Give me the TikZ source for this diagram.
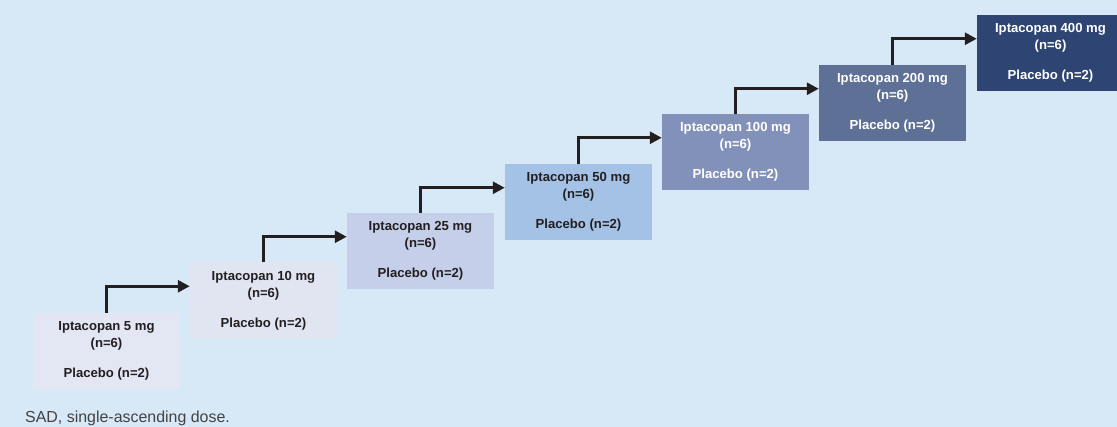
\documentclass[tikz,border=0pt]{standalone}
\usepackage{fontspec}
\setmainfont{Liberation Sans}
\usepackage{tikz}
\usetikzlibrary{positioning, arrows.meta}
\usepackage{xcolor}
\definecolor{bgblue}{HTML}{D7E8F7}
\definecolor{doseA}{HTML}{E3E6F3}
\definecolor{doseB}{HTML}{E1E5F2}
\definecolor{doseC}{HTML}{C5CFE9}
\definecolor{doseD}{HTML}{A4C2E6}
\definecolor{doseE}{HTML}{8191BA}
\definecolor{doseF}{HTML}{5E7096}
\definecolor{doseG}{HTML}{2E4472}
\definecolor{inkdark}{HTML}{231F20}

\begin{document}
\begin{tikzpicture}[
      x=0.03cm, y=0.03cm,
      every node/.style={font=\fontsize{11.2}{14.4}\selectfont\bfseries},
      dosebox/.style={minimum width=4.41cm, minimum height=2.28cm, align=center, inner sep=0pt, text=inkdark},
      darkbox/.style={dosebox, text=white},
      stepline/.style={line width=2.4pt, inkdark, -{Triangle[length=0.36cm, width=0.36cm]}},
      >=Stealth,
    ]
    % background
    \fill[bgblue] (0,0) rectangle (1117,427);
    \clip (0,0) rectangle (1117,427);

    % dose cohorts
    \node[dosebox, fill=doseA] (d5) at (106.5,76) {Iptacopan 5 mg\\(n=6)\\[11pt]Placebo (n=2)};
    \node[dosebox, fill=doseB] (d10) at (263.5,126.5) {Iptacopan 10 mg\\(n=6)\\[11pt]Placebo (n=2)};
    \node[dosebox, fill=doseC] (d25) at (420.5,176) {Iptacopan 25 mg\\(n=6)\\[11pt]Placebo (n=2)};
    \node[dosebox, fill=doseD] (d50) at (578.5,225) {Iptacopan 50 mg\\(n=6)\\[11pt]Placebo (n=2)};
    \node[darkbox, fill=doseE] (d100) at (735.5,275) {Iptacopan 100 mg\\(n=6)\\[11pt]Placebo (n=2)};
    \node[darkbox, fill=doseF] (d200) at (892.5,324) {Iptacopan 200 mg\\(n=6)\\[11pt]Placebo (n=2)};
    \node[darkbox, fill=doseG] (d400) at (1050.5,374) {Iptacopan 400 mg\\(n=6)\\[11pt]Placebo (n=2)};

    % escalation steps
    \draw[stepline] (d5.north) |- ([yshift=-0.72cm]d10.north west);
    \draw[stepline] (d10.north) |- ([yshift=-0.72cm]d25.north west);
    \draw[stepline] (d25.north) |- ([yshift=-0.72cm]d50.north west);
    \draw[stepline] (d50.north) |- ([yshift=-0.72cm]d100.north west);
    \draw[stepline] (d100.north) |- ([yshift=-0.72cm]d200.north west);
    \draw[stepline] (d200.north) |- ([yshift=-0.72cm]d400.north west);

    % footnote
    \node[anchor=base west, inner sep=0pt, font=\fontsize{13.6}{16}\selectfont, text=inkdark!85] (note) at (25,4) {SAD, single-ascending dose.};
  \end{tikzpicture}
\end{document}
